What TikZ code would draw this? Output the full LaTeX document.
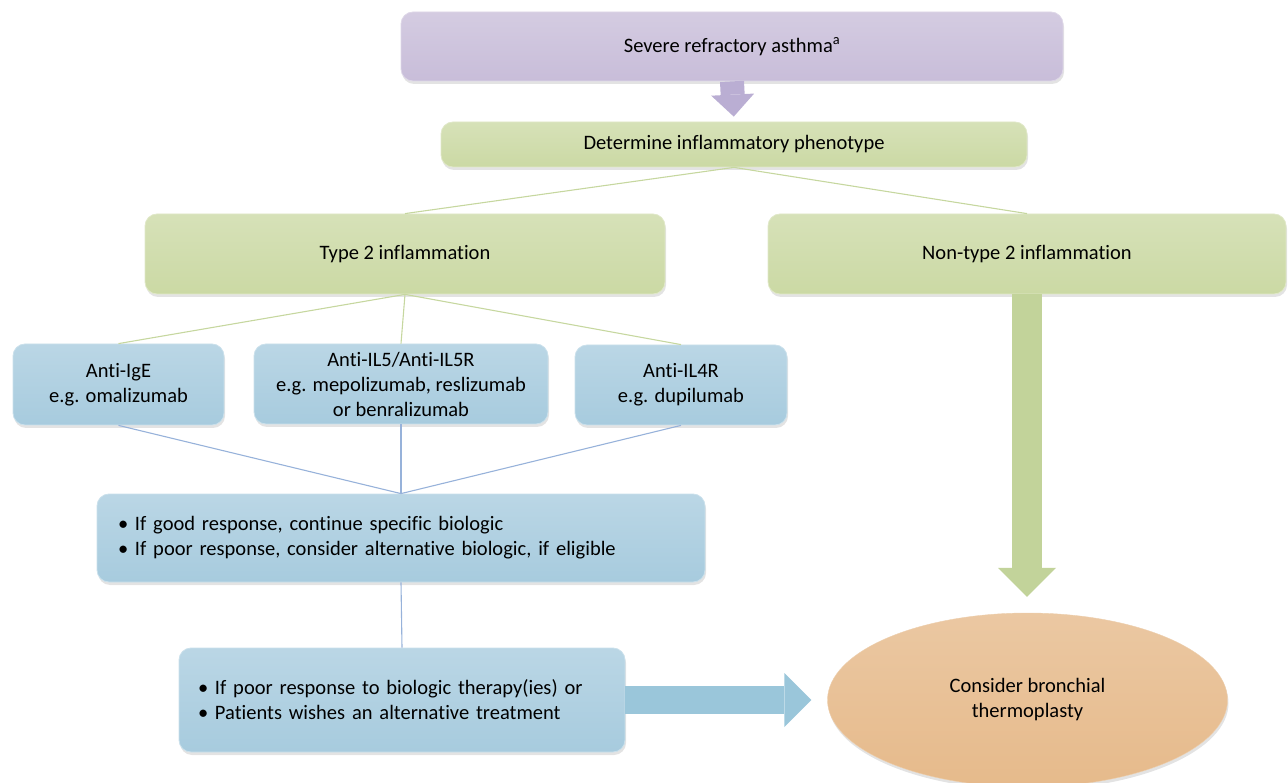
\documentclass[tikz,border=0pt]{standalone}
\usepackage{fontspec}
\setmainfont{Carlito}[Ligatures=NoCommon]
\usepackage{tikz}
\usetikzlibrary{arrows.meta,positioning,shapes.geometric,shadows}

\definecolor{lilac}{HTML}{C8BDD9}
\definecolor{lilacdark}{HTML}{BAAED3}
\definecolor{sage}{HTML}{CBD9A4}
\definecolor{sageline}{HTML}{C6D79F}
\definecolor{sagearrow}{HTML}{C2D39A}
\definecolor{sky}{HTML}{A7CBDE}
\definecolor{skyline}{HTML}{97B2DA}
\definecolor{skyarrow}{HTML}{9AC6DA}
\definecolor{peach}{HTML}{E6BA8B}

\newcommand{\bul}{\makebox[17pt][l]{\textbullet}}

\begin{document}
\begin{tikzpicture}[x=1pt,y=-1pt,
    font=\fontsize{20.5}{25}\selectfont,
    bevel/.style={rounded corners=12pt, draw=#1!60!white, line width=0.8pt,
      top color=#1!78!white, bottom color=#1, inner sep=0pt,
      drop shadow={opacity=0.22, shadow xshift=1pt, shadow yshift=-3pt}},
    listbox/.style={bevel=sky, align=left, inner xsep=#1},
    thin/.style={line width=1.1pt},
    fat/.style={line width=#1}]
  \useasboundingbox (0,0) rectangle (1288,783);

  % boxes
  \node[bevel=lilac, minimum width=662pt, minimum height=69pt] (severe) at (732,46.5)
    {Severe refractory asthma\textsuperscript{a}};
  \node[bevel=sage, minimum width=586pt, minimum height=45pt] (pheno) at (734,144.5)
    {Determine inflammatory phenotype};
  \node[bevel=sage, minimum width=520pt, minimum height=80pt] (type2) at (405,254)
    {Type 2 inflammation};
  \node[bevel=sage, minimum width=518pt, minimum height=80pt] (nontype2) at (1027,254)
    {Non-type 2 inflammation};

  \node[bevel=sky, minimum width=211pt, minimum height=81pt, align=center] (ige) at (118.5,384.5)
    {Anti-IgE\\e.g. omalizumab};
  \node[bevel=sky, minimum width=294pt, minimum height=80pt, align=center] (il5) at (401,384)
    {Anti-IL5/Anti-IL5R\\e.g. mepolizumab, reslizumab\\or benralizumab};
  \node[bevel=sky, minimum width=212pt, minimum height=80pt, align=center] (il4r) at (681,385)
    {Anti-IL4R\\e.g. dupilumab};

  \node[listbox=21pt, minimum width=608pt, minimum height=88pt, text width=566pt] (good) at (401,538)
    {\bul If good response, continue specific biologic\\
     \bul If poor response, consider alternative biologic, if eligible};
  \node[listbox=19pt, minimum width=446pt, minimum height=104pt, text width=408pt] (poor) at (402,700)
    {\bul If poor response to biologic therapy(ies) or\\
     \bul Patients wishes an alternative treatment};

  \node[ellipse, minimum width=400pt, minimum height=174pt, inner sep=0pt, align=center,
    draw=peach!70!white, top color=peach!80!white, bottom color=peach,
    drop shadow={opacity=0.22, shadow xshift=1pt, shadow yshift=-3pt}] (thermo) at (1027.5,700)
    {Consider bronchial\\thermoplasty};

  % thin connectors
  \draw[sageline, thin] (pheno.south) -- (type2.north);
  \draw[sageline, thin] (pheno.south) -- (nontype2.north);
  \draw[sageline, thin] (type2.south) -- (ige.north);
  \draw[sageline, thin] (type2.south) -- (il5.north);
  \draw[sageline, thin] (type2.south) -- (il4r.north);
  \draw[skyline, thin] (ige.south) -- (good.north);
  \draw[skyline, thin] (il5.south) -- (good.north);
  \draw[skyline, thin] (il4r.south) -- (good.north);
  \draw[skyline, thin] (good.south) -- (poor.north);

  % block arrows
  \draw[lilacdark, fat=24pt, -{Triangle[length=22pt, width=43pt, line width=0pt]},
    shorten >=5pt] (severe.south) -- (pheno.north);
  \draw[sagearrow, fat=30pt, -{Triangle[length=29pt, width=58pt, line width=0pt]},
    shorten >=16pt] (nontype2.south) -- (nontype2.south |- thermo.north);
  \draw[skyarrow, fat=28pt, -{Triangle[length=27pt, width=54pt, line width=0pt]},
    shorten >=16pt] (poor.east) -- (thermo.west);
\end{tikzpicture}
\end{document}
